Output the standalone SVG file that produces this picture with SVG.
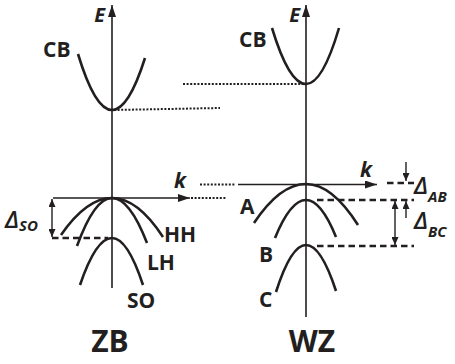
<svg xmlns="http://www.w3.org/2000/svg" width="455" height="364" viewBox="0 0 455 364">
<defs>
<marker id="ah" viewBox="0 0 12 8" refX="12" refY="4" markerWidth="12" markerHeight="8" markerUnits="userSpaceOnUse" orient="auto-start-reverse"><path d="M0,0 L12,4 L0,8 Z" fill="#231f20"/></marker>
<marker id="sh" viewBox="0 0 8 7" refX="8" refY="3.5" markerWidth="8" markerHeight="7" markerUnits="userSpaceOnUse" orient="auto-start-reverse"><path d="M0,0 L8,3.5 L0,7 Z" fill="#231f20"/></marker>
</defs>
<style>
.axis{stroke:#231f20;stroke-width:1.6;fill:none}
.band{stroke:#231f20;stroke-width:2.6;fill:none;stroke-linecap:butt}
.dot{stroke:#231f20;stroke-width:2;stroke-dasharray:2 1.6;fill:none}
.dash{stroke:#231f20;stroke-width:2.6;stroke-dasharray:6.5 4;fill:none}
.dim{stroke:#231f20;stroke-width:1.4;fill:none}
.lbl{font-family:"Open Sans","Liberation Sans",sans-serif;font-weight:bold;fill:#231f20}
.it{font-style:italic}
.dl{font-family:"Open Sans","Liberation Sans",sans-serif;font-style:italic;font-weight:600;fill:#231f20}
.sub{font-weight:bold}
</style>
<g id="connectors">
<line class="axis" x1="112" y1="288" x2="112" y2="5" marker-end="url(#ah)"/>
<line class="axis" x1="306" y1="317" x2="306" y2="5" marker-end="url(#ah)"/>
<line class="axis" x1="53" y1="198" x2="190" y2="198" marker-end="url(#ah)"/>
<line class="axis" x1="238" y1="184.5" x2="377" y2="184.5" marker-end="url(#ah)"/>
<line class="dot" x1="191" y1="198" x2="226" y2="198"/>
<line class="dot" x1="200" y1="184.5" x2="235" y2="184.5"/>
<line class="dot" x1="114" y1="110" x2="220" y2="108"/>
<line class="dot" x1="183" y1="84" x2="304" y2="84"/>
<line class="dash" x1="52" y1="238" x2="108" y2="238"/>
<line class="dash" x1="317" y1="200" x2="414" y2="200"/>
<line class="dash" x1="317" y1="246" x2="414" y2="246"/>
<line class="dash" x1="387" y1="183" x2="414" y2="183" stroke-dasharray="2.5 5.5 20"/>
<line class="dim" x1="52" y1="199" x2="52" y2="237" marker-start="url(#sh)" marker-end="url(#sh)"/>
<line class="dim" x1="395" y1="201" x2="395" y2="245" marker-start="url(#sh)" marker-end="url(#sh)"/>
<line class="dim" x1="406" y1="162" x2="406" y2="181" marker-end="url(#sh)"/>
<line class="dim" x1="406" y1="218" x2="406" y2="201" marker-end="url(#sh)"/>
</g>
<g id="zb-cb"><path class="band" d="M78,54 Q95,110 112,110 Q128.5,110 145,58"/><text class="lbl" x="43" y="57" font-size="21">CB</text></g>
<g id="zb-hh"><path class="band" d="M61,235 Q86.5,198 112,198 Q137.5,198 163,237"/><text class="lbl" x="164" y="242" font-size="21">HH</text></g>
<g id="zb-lh"><path class="band" d="M77,246 Q94.5,198 112,198 Q129.5,198 147,243"/><text class="lbl" x="147" y="270" font-size="21">LH</text></g>
<g id="zb-so"><path class="band" d="M80,285 Q96,238 112,238 Q127.5,238 143,285"/><text class="lbl" x="127" y="308" font-size="21">SO</text></g>
<g id="wz-cb"><path class="band" d="M272,28 Q289,84 306,84 Q322.5,84 339,28"/><text class="lbl" x="239" y="47" font-size="21">CB</text></g>
<g id="wz-a"><path class="band" d="M254,223 Q280,184 306,184 Q332,184 358,225"/><text class="lbl" x="240" y="214" font-size="21">A</text></g>
<g id="wz-b"><path class="band" d="M275,238 Q290.5,200 306,200 Q321,200 336,237"/><text class="lbl" x="259" y="262" font-size="21">B</text></g>
<g id="wz-c"><path class="band" d="M276,292 Q291,245 306,245 Q321,245 336,291"/><text class="lbl" x="259" y="307" font-size="21">C</text></g>
<g id="labels">
<text class="lbl it" x="105" y="22" font-size="20" text-anchor="end">E</text>
<text class="lbl it" x="300" y="22" font-size="20" text-anchor="end">E</text>
<text class="lbl it" x="174" y="188" font-size="21">k</text>
<text class="lbl it" x="360" y="177" font-size="21">k</text>
<text class="lbl" x="110" y="352" font-size="30" text-anchor="middle">ZB</text>
<text class="lbl" x="312" y="352" font-size="30" text-anchor="middle">WZ</text>
<text class="dl" x="5" y="228" font-size="24">Δ<tspan class="sub" font-size="15" dy="3">SO</tspan></text>
<text class="dl" x="414" y="194" font-size="24">Δ<tspan class="sub" font-size="15" dy="8">AB</tspan></text>
<text class="dl" x="414" y="229" font-size="24">Δ<tspan class="sub" font-size="15" dy="8">BC</tspan></text>
</g>
</svg>
